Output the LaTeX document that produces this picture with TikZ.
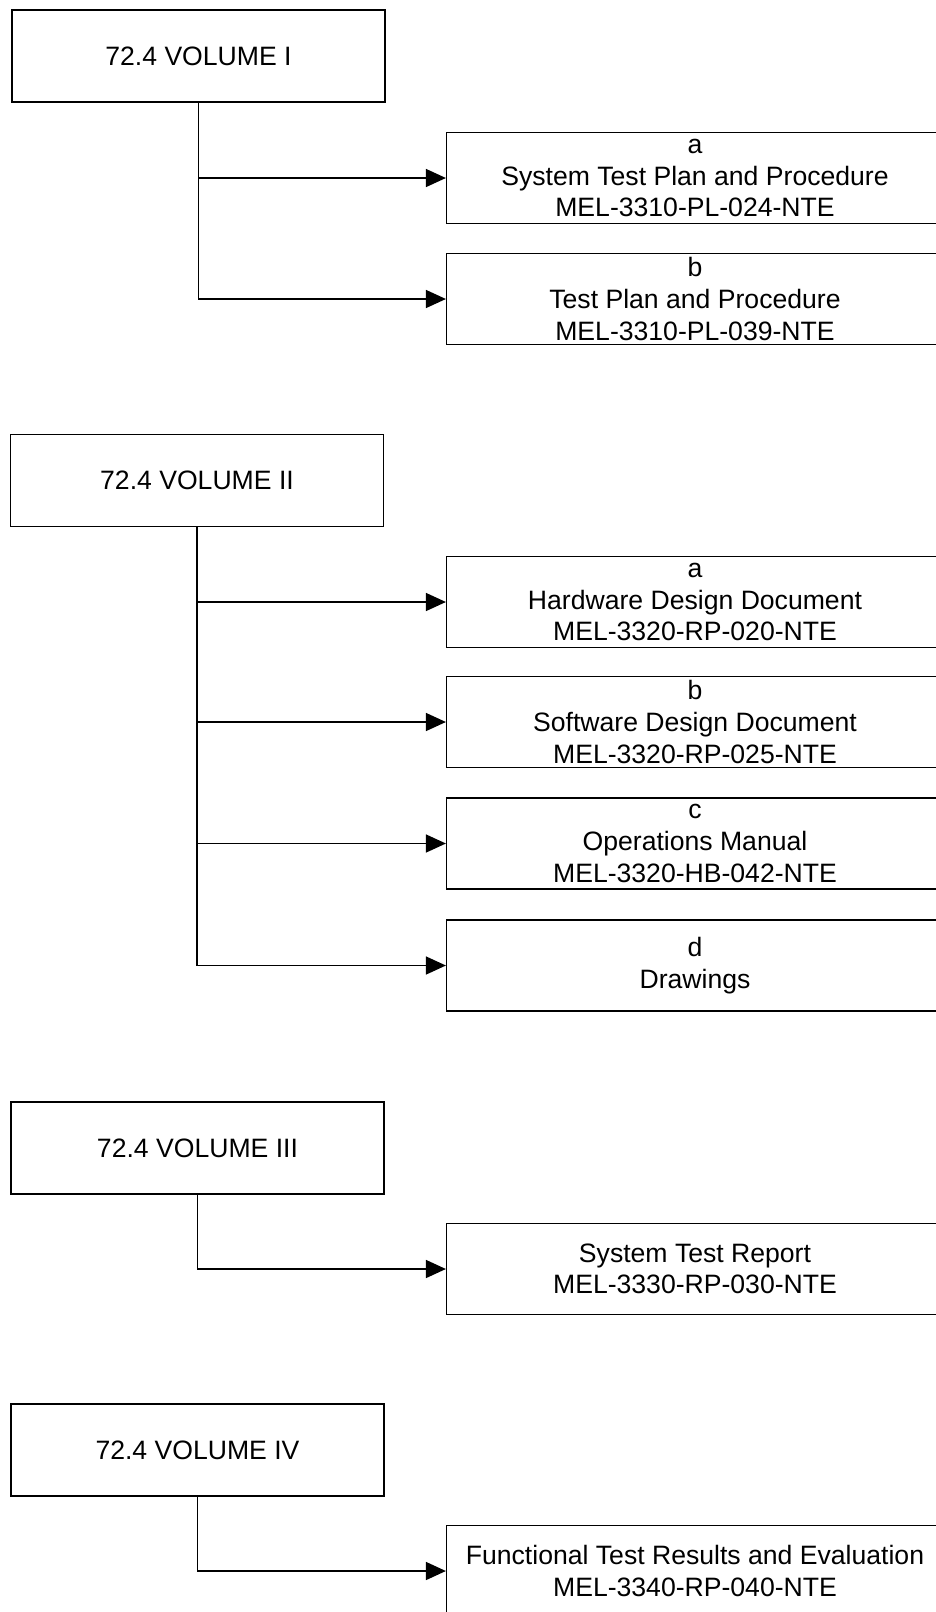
\documentclass[tikz,border=0pt]{standalone}
\usepackage{fontspec}
\setmainfont{Liberation Sans}
\usetikzlibrary{arrows.meta,positioning}
\newcommand{\docfont}{\fontsize{22.7}{27}\selectfont}

\begin{document}
\begin{tikzpicture}[
        x=0.03cm, y=-0.03cm,
        volbox/.style={draw, line width=0.045cm, minimum width=11.2cm,
          minimum height=2.75cm, inner sep=0pt, font=\docfont},
        docbox/.style={draw, line width=0.045cm, minimum width=14.9cm,
          minimum height=2.73cm, inner sep=0pt, align=center, font=\docfont},
        link/.style={->, line width=0.045cm},
        >={Triangle[length=0.6cm,width=0.54cm]}
      ]
        \useasboundingbox (0,0) rectangle (936,1612);
        \clip (0,0) rectangle (936,1612);

        % volume I
        \node[volbox] (vol1) at (198.5,56) {72.4 VOLUME I};
        \node[docbox] (doc1a) at (695,178) {a\\System Test Plan and Procedure\\MEL-3310-PL-024-NTE};
        \node[docbox] (doc1b) at (695,299) {b\\Test Plan and Procedure\\MEL-3310-PL-039-NTE};
        \draw[link] (vol1.south) |- (doc1a.west);
        \draw[link] (vol1.south) |- (doc1b.west);

        % volume II
        \node[volbox] (vol2) at (197,480.5) {72.4 VOLUME II};
        \node[docbox] (doc2a) at (695,602) {a\\Hardware Design Document\\MEL-3320-RP-020-NTE};
        \node[docbox] (doc2b) at (695,722) {b\\Software Design Document\\MEL-3320-RP-025-NTE};
        \node[docbox] (doc2c) at (695,843.5) {c\\Operations Manual\\MEL-3320-HB-042-NTE};
        \node[docbox] (doc2d) at (695,965.5) {d\\Drawings};
        \foreach \d in {doc2a,doc2b,doc2c,doc2d}
          \draw[link] (vol2.south) |- (\d.west);

        % volume III
        \node[volbox] (vol3) at (197.5,1148) {72.4 VOLUME III};
        \node[docbox] (doc3) at (695,1269) {System Test Report\\MEL-3330-RP-030-NTE};
        \draw[link] (vol3.south) |- (doc3.west);

        % volume IV
        \node[volbox] (vol4) at (197.5,1450) {72.4 VOLUME IV};
        \node[docbox] (doc4) at (695,1571) {Functional Test Results and Evaluation\\MEL-3340-RP-040-NTE};
        \draw[link] (vol4.south) |- (doc4.west);
      \end{tikzpicture}
\end{document}
